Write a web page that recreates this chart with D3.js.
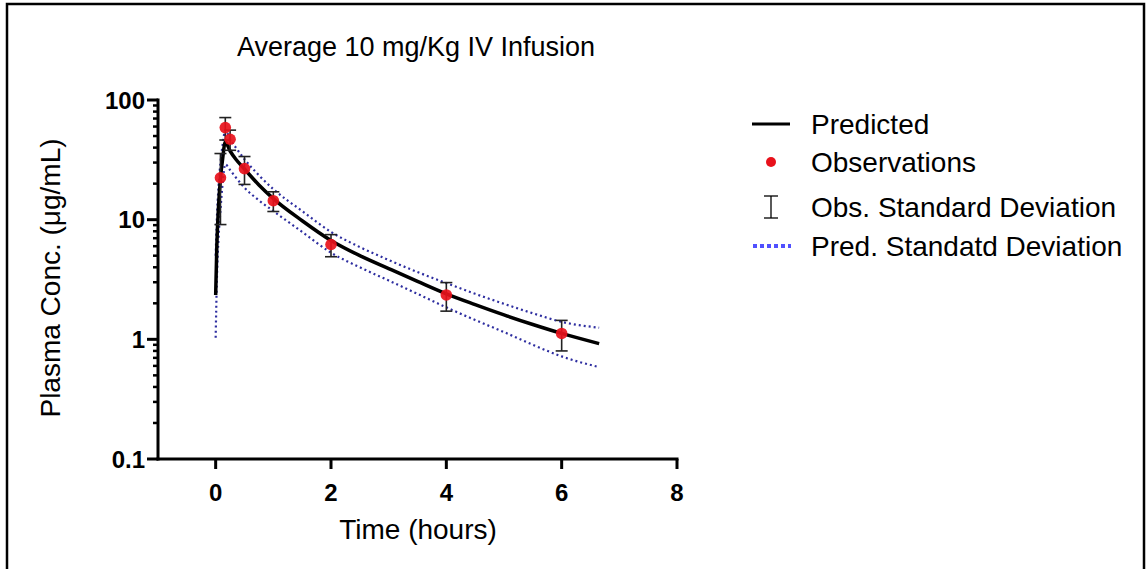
<!DOCTYPE html>
<html><head><meta charset="utf-8">
<script src="https://cdn.jsdelivr.net/npm/d3@7"></script>
<style>body{margin:0;background:#fff;}svg{display:block;font-family:"Liberation Sans",Arial,sans-serif;}</style>
</head><body>
<script>
// ---- data ----
const title = "Average 10 mg/Kg IV Infusion";
const xLabel = "Time (hours)";
const yLabel = "Plasma Conc. (\u03bcg/mL)";
const xTicks = [0, 2, 4, 6, 8];
const yTicks = [0.1, 1, 10, 100];
const yTickLabels = ["0.1", "1", "10", "100"];
const obsTime = [0.083, 0.167, 0.25, 0.5, 1, 2, 4, 6];
const obsConc = [22.4, 58.8, 47, 26.7, 14.4, 6.2, 2.35, 1.12];
const obsSD   = [13.3, 12.5, 9, 7, 2.7, 1.3, 0.63, 0.32];
const predTime  = [0, 0.02, 0.05, 0.083, 0.12, 0.167, 0.25, 0.35, 0.5, 0.75, 1, 1.5, 2, 2.5, 3, 3.5, 4, 4.5, 5, 5.5, 6, 6.65];
const predConc  = [2.35, 6, 13, 22, 32, 44.5, 37.5, 32, 26.5, 19.5, 15, 9.8, 6.7, 5.0, 3.9, 3.05, 2.4, 1.95, 1.6, 1.33, 1.12, 0.92];
const predUpper = [5, 10, 19, 30, 42, 56, 47, 40, 32, 23.5, 18, 11.8, 7.9, 5.9, 4.6, 3.65, 2.95, 2.4, 1.98, 1.65, 1.4, 1.25];
const predLower = [1.03, 3, 7, 12, 20, 29, 26, 22.5, 18.5, 14.5, 11.8, 7.9, 5.3, 4.0, 3.1, 2.4, 1.85, 1.45, 1.15, 0.9, 0.72, 0.585];
const legendLabels = ["Predicted", "Observations", "Obs. Standard Deviation", "Pred. Standatd Deviation"];

// ---- drawing ----
const W = 1146, H = 569;
const svg = d3.select("body").append("svg").attr("width", W).attr("height", H);
svg.append("rect").attr("x", 7).attr("y", 4).attr("width", 1137).attr("height", 620)
  .attr("fill", "none").attr("stroke", "#000").attr("stroke-width", 2.5);

const x = d3.scaleLinear().domain([-1, 8]).range([158, 677]);
const y = d3.scaleLog().domain([0.1, 100]).range([459, 100]);

// title
svg.append("text").attr("x", 416).attr("y", 56).attr("text-anchor", "middle")
  .attr("font-size", 27).text(title);

// y axis
const yAxis = svg.append("g").attr("transform", `translate(${x(-1)},0)`);
const minor = [];
for (let d = 0.1; d < 100; d *= 10) for (let k = 2; k <= 9; k++) minor.push(d * k);
yAxis.selectAll("line.minor").data(minor).join("line").attr("class", "minor")
  .attr("x1", -5).attr("x2", 0).attr("y1", d => y(d)).attr("y2", d => y(d))
  .attr("stroke", "#000").attr("stroke-width", 2.5);
yAxis.selectAll("line.major").data(yTicks).join("line").attr("class", "major")
  .attr("x1", -11).attr("x2", 0).attr("y1", d => y(d)).attr("y2", d => y(d))
  .attr("stroke", "#000").attr("stroke-width", 3);
yAxis.selectAll("text").data(yTicks).join("text")
  .attr("x", -13).attr("y", d => y(d)).attr("dy", "0.36em").attr("text-anchor", "end")
  .attr("font-size", 24).attr("font-weight", "bold").text((d, i) => yTickLabels[i]);
yAxis.append("line").attr("x1", 0).attr("x2", 0).attr("y1", y(100) - 1.5).attr("y2", y(0.1) + 1.5)
  .attr("stroke", "#000").attr("stroke-width", 3);

// x axis
const xAxis = svg.append("g").attr("transform", `translate(0,${y(0.1)})`);
xAxis.append("line").attr("x1", x(-1) - 1.5).attr("x2", x(8) + 1.5).attr("y1", 0).attr("y2", 0)
  .attr("stroke", "#000").attr("stroke-width", 3);
xAxis.selectAll("line.tick").data(xTicks).join("line").attr("class", "tick")
  .attr("x1", d => x(d)).attr("x2", d => x(d)).attr("y1", 0).attr("y2", 10)
  .attr("stroke", "#000").attr("stroke-width", 3);
xAxis.selectAll("text").data(xTicks).join("text")
  .attr("x", d => x(d)).attr("y", 42).attr("text-anchor", "middle")
  .attr("font-size", 24).attr("font-weight", "bold").text(d => d);

svg.append("text").attr("x", 418).attr("y", 539).attr("text-anchor", "middle")
  .attr("font-size", 28).text(xLabel);
svg.append("text").attr("transform", "translate(60,278) rotate(-90)").attr("text-anchor", "middle")
  .attr("font-size", 28).text(yLabel);

// lines
const line = d3.line().x(d => x(d[0])).y(d => y(d[1])).curve(d3.curveMonotoneX);
const dotCol = "#2e2ea0";
[predUpper, predLower].forEach(arr => {
  svg.append("path").datum(predTime.map((t, i) => [t, arr[i]])).attr("d", line)
    .attr("fill", "none").attr("stroke", dotCol).attr("stroke-width", 2.2)
    .attr("stroke-dasharray", "2,3");
});
svg.append("path").datum(predTime.map((t, i) => [t, predConc[i]])).attr("d", line)
  .attr("fill", "none").attr("stroke", "#000").attr("stroke-width", 3.5);

// error bars
const eb = svg.append("g").attr("stroke", "#222").attr("stroke-width", 1.6);
obsTime.forEach((t, i) => {
  const cx = x(t), hi = y(obsConc[i] + obsSD[i]), lo = y(obsConc[i] - obsSD[i]);
  eb.append("line").attr("x1", cx).attr("x2", cx).attr("y1", hi).attr("y2", lo);
  eb.append("line").attr("x1", cx - 6).attr("x2", cx + 6).attr("y1", hi).attr("y2", hi);
  eb.append("line").attr("x1", cx - 6).attr("x2", cx + 6).attr("y1", lo).attr("y2", lo);
});
svg.append("g").selectAll("circle").data(obsTime).join("circle")
  .attr("cx", d => x(d)).attr("cy", (d, i) => y(obsConc[i])).attr("r", 5.8)
  .attr("fill", "#e8111b").attr("fill-opacity", 0.92);

// legend
const lg = svg.append("g");
const rows = [124, 162, 207, 246];
lg.append("line").attr("x1", 752).attr("x2", 790).attr("y1", rows[0]).attr("y2", rows[0])
  .attr("stroke", "#000").attr("stroke-width", 3);
lg.append("circle").attr("cx", 771).attr("cy", rows[1]).attr("r", 5).attr("fill", "#e8111b");
lg.append("line").attr("x1", 771).attr("x2", 771).attr("y1", 196).attr("y2", 218).attr("stroke", "#000").attr("stroke-width", 1.3);
lg.append("line").attr("x1", 764).attr("x2", 778).attr("y1", 196).attr("y2", 196).attr("stroke", "#000").attr("stroke-width", 1.3);
lg.append("line").attr("x1", 764).attr("x2", 778).attr("y1", 218).attr("y2", 218).attr("stroke", "#000").attr("stroke-width", 1.3);
lg.append("line").attr("x1", 753).attr("x2", 791).attr("y1", rows[3]).attr("y2", rows[3])
  .attr("stroke", "#5050ff").attr("stroke-width", 4).attr("stroke-dasharray", "4,3");
lg.selectAll("text").data(legendLabels).join("text")
  .attr("x", 811).attr("y", (d, i) => rows[i]).attr("dy", "0.36em")
  .attr("font-size", 28).text(d => d);
</script>
</body></html>
